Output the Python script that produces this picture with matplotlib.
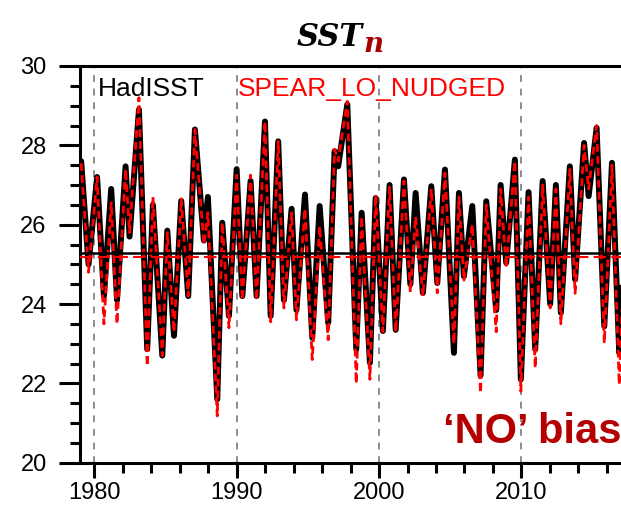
import matplotlib
matplotlib.use("Agg")
import matplotlib.pyplot as plt
from matplotlib.ticker import MultipleLocator

plt.rcParams["font.family"] = ["Liberation Sans", "DejaVu Sans"]

# turning points (peaks / troughs), decimal years
times = [1979.08, 1979.60, 1980.20, 1980.68, 1981.19, 1981.60, 1982.20, 1982.48,
         1983.14, 1983.72, 1984.12, 1984.78, 1985.13, 1985.60, 1986.11, 1986.60,
         1987.07, 1987.70, 1987.98, 1988.64, 1988.99, 1989.46, 1990.00, 1990.40,
         1990.98, 1991.40, 1991.99, 1992.39, 1992.92, 1993.32, 1993.86, 1994.20,
         1994.80, 1995.31, 1995.83, 1996.43, 1996.88, 1997.13, 1997.77, 1998.40,
         1998.78, 1999.36, 1999.76, 2000.27, 2000.74, 2001.17, 2001.75, 2002.20,
         2002.57, 2003.08, 2003.67, 2004.09, 2004.63, 2005.26, 2005.61, 2005.96,
         2006.55, 2007.13, 2007.53, 2008.23, 2008.54, 2008.93, 2009.54, 2009.96,
         2010.50, 2010.97, 2011.49, 2012.02, 2012.42, 2012.77, 2013.40, 2013.77,
         2014.40, 2014.72, 2015.28, 2015.82, 2016.36, 2016.87, 2017.40]

hadisst = [27.60, 25.00, 27.20, 24.20, 26.90, 24.10, 27.47, 25.70,
           28.90, 22.86, 26.50, 22.70, 25.85, 23.20, 26.60, 24.20,
           28.40, 25.60, 26.70, 21.60, 26.05, 23.70, 27.40, 24.20,
           27.10, 24.20, 28.60, 23.70, 28.10, 24.10, 26.40, 23.85,
           26.76, 23.15, 26.47, 23.53, 27.85, 27.47, 29.03, 22.86,
           26.30, 22.52, 26.67, 23.32, 27.00, 23.35, 27.14, 24.50,
           26.80, 24.28, 26.97, 24.53, 27.39, 22.77, 26.80, 24.70,
           26.47, 22.20, 26.59, 23.85, 27.00, 25.04, 27.64, 22.10,
           26.82, 22.86, 27.10, 24.00, 27.00, 23.78, 27.47, 24.62,
           28.06, 26.72, 28.44, 23.44, 27.56, 22.77, 27.30]

spear = [27.55, 24.80, 27.20, 23.50, 26.55, 23.50, 27.40, 25.80,
         29.20, 22.44, 26.70, 22.70, 25.80, 23.30, 26.65, 24.20,
         28.40, 25.50, 26.30, 21.18, 26.05, 23.40, 27.25, 24.10,
         27.25, 24.10, 28.60, 23.55, 28.10, 23.90, 26.30, 23.60,
         26.40, 22.60, 25.96, 23.10, 27.90, 27.60, 29.11, 22.00,
         26.20, 22.10, 26.75, 23.30, 26.95, 23.30, 27.10, 24.30,
         26.20, 24.20, 26.90, 24.28, 27.30, 23.00, 26.70, 24.60,
         26.00, 21.76, 26.50, 23.30, 26.90, 24.90, 27.60, 21.80,
         26.70, 22.39, 27.00, 23.90, 26.90, 23.50, 27.40, 24.27,
         28.00, 26.90, 28.50, 23.02, 27.50, 21.97, 27.20]

had_mean = 25.29
spear_mean = 25.19
decades = [1980, 1990, 2000, 2010]
xtick_labels = ["1980", "1990", "2000", "2010"]
yticks = [20, 22, 24, 26, 28, 30]

fig = plt.figure(figsize=(6.21, 5.05), dpi=100)
# axes runs past the right edge of the figure, like the cropped original
ax = fig.add_axes([80 / 621, 42.3 / 505, 576.7 / 621, 396.7 / 505])

for d in decades:
    ax.axvline(d, color="#8c8c8c", lw=1.4, dashes=(3.5, 3.5), zorder=1)

ax.plot(times, hadisst, color="black", lw=4.3, solid_joinstyle="round",
        solid_capstyle="round", zorder=2)
ax.plot(times, spear, color="red", lw=2.0, dashes=(2.8, 1.5), zorder=3)

ax.axhline(had_mean, color="black", lw=1.8, zorder=4)
ax.axhline(spear_mean, color="red", lw=1.5, dashes=(6, 2.5), zorder=4)

ax.set_xlim(1979, 2019.5)
ax.set_ylim(20, 30)
ax.set_xticks(decades, xtick_labels, fontsize=17)
ax.set_yticks(yticks, [str(v) for v in yticks], fontsize=17)
ax.xaxis.set_minor_locator(MultipleLocator(2))
ax.yaxis.set_minor_locator(MultipleLocator(0.5))

for s in ax.spines.values():
    s.set_linewidth(2.2)
ax.tick_params(axis="both", which="both", direction="out", width=2.2)
ax.tick_params(axis="y", which="major", length=15, pad=9)
ax.tick_params(axis="y", which="minor", length=7)
ax.tick_params(axis="x", which="major", length=11, pad=3)
ax.tick_params(axis="x", which="minor", length=7)

fig.text(98 / 621, 1 - 96 / 505, "HadISST", color="black", fontsize=19,
         va="baseline")
fig.text(238 / 621, 1 - 96 / 505, "SPEAR_LO_NUDGED", color="red", fontsize=19,
         va="baseline")

# title: SST with a dark red subscript n right after it
renderer = fig.canvas.get_renderer()
t1 = fig.text(297 / 621, 1 - 45.5 / 505, "SST", fontsize=22, family="DejaVu Serif",
              weight="bold", style="italic", va="baseline")
bb = t1.get_window_extent(renderer)
fig.text(bb.x1 / 621, 1 - 52 / 505, "n", fontsize=20, family="DejaVu Serif",
         weight="bold", style="italic", va="baseline", color="#a80000")

fig.text(443 / 621, 1 - 443 / 505, "\u2018NO\u2019 bias", fontsize=30,
         weight="bold", color="#b40000", va="baseline")

fig.savefig("out.png", dpi=100)
